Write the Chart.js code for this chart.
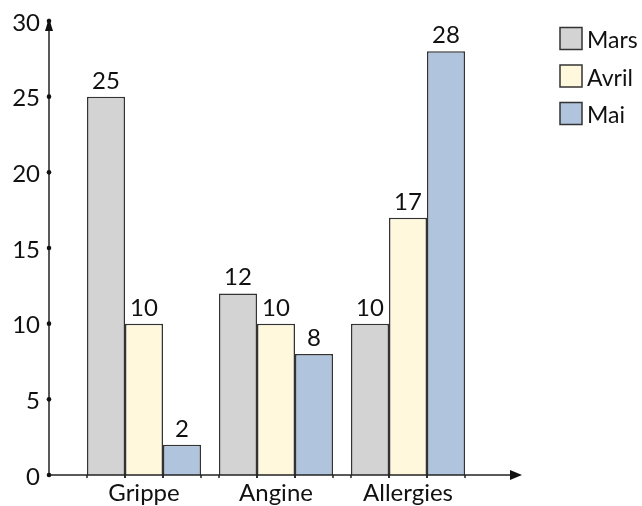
<!DOCTYPE html>
<html>
<head>
<meta charset="utf-8">
<script src="https://cdn.jsdelivr.net/npm/chart.js@4/dist/chart.umd.min.js"></script>
<style>
  html, body { margin: 0; padding: 0; background: #fff; }
  canvas { display: block; }
</style>
</head>
<body>
<canvas id="c" width="642" height="506"></canvas>
<script>
const categories = ["Grippe", "Angine", "Allergies"];
const seriesNames = ["Mars", "Avril", "Mai"];
const mars = [25, 12, 10];
const avril = [10, 10, 17];
const mai = [2, 8, 28];
const yTicks = [0, 5, 10, 15, 20, 25, 30];
const colors = ["#d3d3d3", "#fff8dc", "#b0c4de"];

const FONT = "Lato, sans-serif";
const TEXT = '#111';
const AX_LEFT = 49;
const AX_RIGHT_TIP = 522;

const axesPlugin = {
  id: 'axesPlugin',
  afterDatasetsDraw(chart) {
    const ctx = chart.ctx;
    const y = chart.scales.y;
    const x = chart.scales.x;
    const y0 = y.getPixelForValue(0);
    const yTop = y.getPixelForValue(30);
    ctx.save();
    ctx.strokeStyle = '#222';
    ctx.fillStyle = TEXT;
    ctx.lineWidth = 1.5;
    // small marks below axis at bar edges
    chart.data.datasets.forEach((ds, di) => {
      chart.getDatasetMeta(di).data.forEach(bar => {
        [bar.x - bar.width / 2, bar.x + bar.width / 2].forEach(xx => {
          ctx.beginPath(); ctx.moveTo(xx, y0); ctx.lineTo(xx, y0 + 3); ctx.stroke();
        });
      });
    });
    // y axis
    ctx.beginPath(); ctx.moveTo(AX_LEFT, y0); ctx.lineTo(AX_LEFT, yTop); ctx.stroke();
    ctx.beginPath();
    ctx.moveTo(AX_LEFT, yTop - 3);
    ctx.lineTo(AX_LEFT - 4, yTop + 10);
    ctx.lineTo(AX_LEFT + 4, yTop + 10);
    ctx.closePath(); ctx.fill();
    // x axis
    ctx.beginPath(); ctx.moveTo(AX_LEFT, y0); ctx.lineTo(AX_RIGHT_TIP - 6, y0); ctx.stroke();
    ctx.beginPath();
    ctx.moveTo(AX_RIGHT_TIP, y0);
    ctx.lineTo(AX_RIGHT_TIP - 12, y0 - 5);
    ctx.lineTo(AX_RIGHT_TIP - 12, y0 + 5);
    ctx.closePath(); ctx.fill();
    // tick dots + labels
    ctx.font = '24px ' + FONT;
    ctx.textAlign = 'right';
    ctx.textBaseline = 'middle';
    yTicks.forEach(v => {
      const py = y.getPixelForValue(v);
      ctx.beginPath(); ctx.arc(AX_LEFT, py, 2.3, 0, Math.PI * 2); ctx.fill();
      ctx.fillText(String(v), 40, py + 2);
    });
    // category labels
    ctx.textAlign = 'center';
    ctx.textBaseline = 'alphabetic';
    categories.forEach((c, i) => {
      ctx.fillText(c, x.getPixelForValue(i), 501);
    });
    // value labels
    chart.data.datasets.forEach((ds, di) => {
      chart.getDatasetMeta(di).data.forEach((bar, i) => {
        ctx.fillText(String(ds.data[i]), bar.x, bar.y - 8);
      });
    });
    // legend
    ctx.font = '23px ' + FONT;
    ctx.textAlign = 'left';
    seriesNames.forEach((n, i) => {
      const top = 27.5 + i * 37.5;
      ctx.fillStyle = colors[i];
      ctx.fillRect(560, top, 22, 22);
      ctx.strokeStyle = '#333';
      ctx.lineWidth = 1.5;
      ctx.strokeRect(560, top, 22, 22);
      ctx.fillStyle = TEXT;
      ctx.fillText(n, 587, top + 20.5);
    });
    ctx.restore();
  }
};

new Chart(document.getElementById('c'), {
  type: 'bar',
  data: {
    labels: categories,
    datasets: [
      { label: seriesNames[0], data: mars, backgroundColor: colors[0] },
      { label: seriesNames[1], data: avril, backgroundColor: colors[1] },
      { label: seriesNames[2], data: mai, backgroundColor: colors[2] }
    ].map(d => Object.assign(d, { borderColor: '#333', borderWidth: 1.5, barPercentage: 1, categoryPercentage: 0.8636 }))
  },
  options: {
    responsive: false,
    animation: false,
    devicePixelRatio: 1,
    layout: { padding: { top: 21, left: 78, right: 168, bottom: 31 } },
    plugins: { legend: { display: false }, tooltip: { enabled: false } },
    scales: {
      x: { display: false },
      y: { display: false, min: 0, max: 30, ticks: { stepSize: 5 } }
    }
  },
  plugins: [axesPlugin]
});
</script>
</body>
</html>
